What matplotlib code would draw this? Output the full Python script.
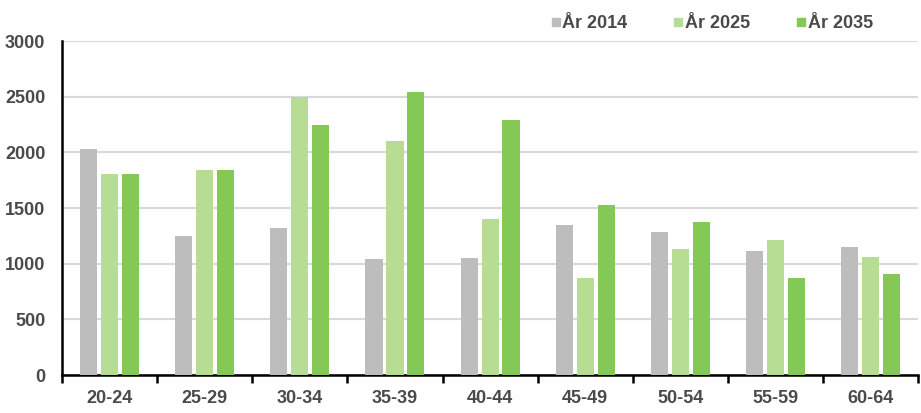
import matplotlib
matplotlib.use("Agg")
import matplotlib.pyplot as plt
import numpy as np
from matplotlib.lines import Line2D

categories = ["20-24", "25-29", "30-34", "35-39", "40-44", "45-49", "50-54", "55-59", "60-64"]
series_names = ["År 2014", "År 2025", "År 2035"]
ar2014 = [2030, 1250, 1320, 1042, 1051, 1347, 1284, 1114, 1150]
ar2025 = [1805, 1841, 2495, 2104, 1401, 871, 1132, 1213, 1060]
ar2035 = [1805, 1841, 2246, 2542, 2290, 1527, 1374, 871, 907]
yticks = [0, 500, 1000, 1500, 2000, 2500, 3000]

colors = ["#bcbdbc", "#b6dd93", "#84c956"]
txt = "#4a4a4a"

plt.rcParams['font.family'] = ['Liberation Sans', 'DejaVu Sans']
fig = plt.figure(figsize=(9.21, 4.13), dpi=100)
ax = fig.add_axes([0.0673, 0.092, 0.9297, 0.8087])

x = np.arange(len(categories))
w = 0.18
step = 0.22
for i, (vals, c) in enumerate(zip([ar2014, ar2025, ar2035], colors)):
    ax.bar(x + (i - 1) * step, vals, width=w, color=c, zorder=3, label=series_names[i])

ax.set_xlim(-0.5, len(categories) - 0.5)
ax.set_ylim(0, 3000)
ax.set_yticks(yticks)
ax.set_yticklabels([str(v) for v in yticks], fontsize=13, fontweight='bold', color=txt)
ax.tick_params(axis='y', length=0, pad=12)
ax.yaxis.grid(True, color='#d9d9d9', linewidth=1.5, zorder=0)
ax.set_axisbelow(True)

ax.set_xticks(x)
ax.set_xticklabels(categories, fontsize=13, fontweight='bold', color=txt)
ax.tick_params(axis='x', which='major', length=0, pad=11)
ax.set_xticks(np.arange(-0.5, len(categories)), minor=True)
ax.tick_params(axis='x', which='minor', length=6, width=1.8, color='black', direction='out')

for s in ['top', 'right']:
    ax.spines[s].set_visible(False)
ax.spines['left'].set_linewidth(1.8)
ax.spines['bottom'].set_linewidth(1.8)
ax.spines['left'].set_color('black')
ax.spines['bottom'].set_color('black')

handles = [Line2D([0], [0], marker='s', linestyle='none', markersize=6,
                  markerfacecolor=c, markeredgecolor=c) for c in colors]
leg = fig.legend(handles, series_names, loc='center', bbox_to_anchor=(0.772, 0.942),
                 ncol=3, frameon=False, handletextpad=0.0, columnspacing=2.5,
                 prop={'size': 13, 'weight': 'bold'}, handlelength=0.7)
for t in leg.get_texts():
    t.set_color(txt)

fig.savefig("out.png", dpi=100)
